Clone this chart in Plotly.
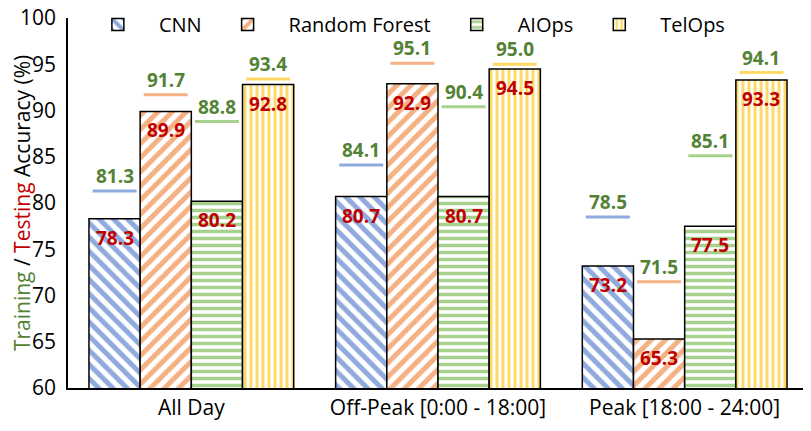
import plotly.graph_objects as go

categories = ["All Day", "Off-Peak [0:00 - 18:00]", "Peak [18:00 - 24:00]"]
series = ["CNN", "Random Forest", "AIOps", "TelOps"]
testing = {
    "CNN": [78.3, 80.7, 73.2],
    "Random Forest": [89.9, 92.9, 65.3],
    "AIOps": [80.2, 80.7, 77.5],
    "TelOps": [92.8, 94.5, 93.3],
}
training = {
    "CNN": [81.3, 84.1, 78.5],
    "Random Forest": [91.7, 95.1, 71.5],
    "AIOps": [88.8, 90.4, 85.1],
    "TelOps": [93.4, 95.0, 94.1],
}
yticks = [60, 65, 70, 75, 80, 85, 90, 95, 100]

colors = {"CNN": "#8FAADC", "Random Forest": "#F4B183", "AIOps": "#A9D18E", "TelOps": "#FFD966"}
shapes_p = {"CNN": "\\", "Random Forest": "/", "AIOps": "-", "TelOps": "|"}
psize = {"CNN": 10, "Random Forest": 10, "AIOps": 7, "TelOps": 6}
GREEN = "#548235"
RED = "#C00000"
FONT = "Open Sans"

bargap = 0.17
n = len(series)
w = (1 - bargap) / n
xs = list(range(len(categories)))

fig = go.Figure()
for k, s in enumerate(series):
    fig.add_trace(go.Bar(
        name=s, x=xs, y=testing[s],
        marker=dict(color="white", line=dict(color="black", width=1.5),
                    pattern=dict(shape=shapes_p[s], fgcolor=colors[s], bgcolor="white",
                                 size=psize[s], solidity=0.5, fgopacity=1, fillmode="replace")),
    ))

annotations = []
for k, s in enumerate(series):
    off = (k - (n - 1) / 2) * w
    lx, ly = [], []
    for i in xs:
        cx = i + off
        lx += [cx - w * 0.43, cx + w * 0.43, None]
        ly += [training[s][i], training[s][i], None]
        annotations.append(dict(x=cx, y=training[s][i], text="<b>%.1f</b>" % training[s][i],
                                showarrow=False, yanchor="bottom", yshift=0,
                                font=dict(color=GREEN, size=19, family=FONT)))
        annotations.append(dict(x=cx, y=testing[s][i], text="<b>%.1f</b>" % testing[s][i],
                                showarrow=False, yanchor="top", yshift=-4,
                                font=dict(color=RED, size=19, family=FONT)))
    fig.add_trace(go.Scatter(x=lx, y=ly, mode="lines", line=dict(color=colors[s], width=3),
                             showlegend=False, hoverinfo="skip"))

annotations.append(dict(
    xref="paper", yref="paper", x=-0.062, y=0.5, xanchor="center", yanchor="middle",
    textangle=-90, showarrow=False, font=dict(size=21, family=FONT, color="black"),
    text='<span style="color:%s">Training</span> / <span style="color:%s">Testing</span> Accuracy (%%)' % (GREEN, RED),
))

fig.update_layout(
    width=811, height=431,
    margin=dict(l=60, r=11, t=10, b=51, autoexpand=False),
    barmode="group", bargap=bargap, bargroupgap=0,
    plot_bgcolor="white", paper_bgcolor="white",
    font=dict(family=FONT, size=20, color="black"),
    annotations=annotations,
    legend=dict(orientation="h", x=0.012, y=1.035, xanchor="left", yanchor="top",
                font=dict(size=20, family=FONT), bgcolor="rgba(0,0,0,0)",
                itemwidth=72, traceorder="normal"),
    xaxis=dict(tickvals=xs, ticktext=categories, range=[-0.5, 2.5], showline=True,
               linecolor="black", linewidth=1.5, showgrid=False, zeroline=False, ticks="",
               automargin=False, tickfont=dict(size=21, family=FONT)),
    yaxis=dict(range=[60, 100], tickvals=yticks, showline=True, linecolor="black",
               linewidth=1.5, showgrid=False, zeroline=False, ticks="", automargin=False,
               ticklabelstandoff=6, ticklabeloverflow="allow", tickfont=dict(size=21, family=FONT)),
)

fig.write_html("out.html")
